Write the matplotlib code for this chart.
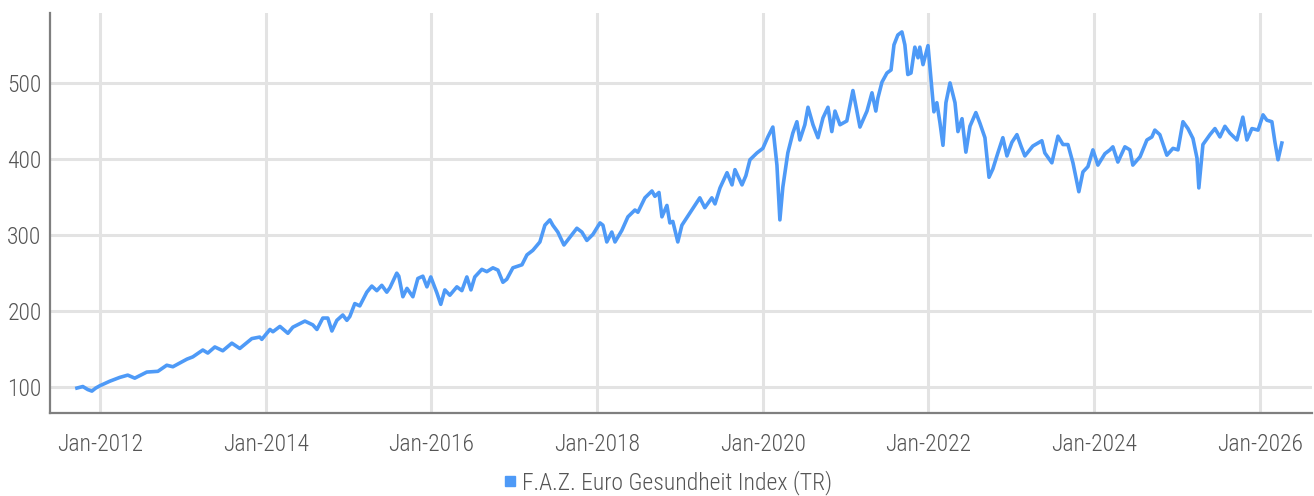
import matplotlib
matplotlib.use("Agg")
import matplotlib.pyplot as plt
import numpy as np
import pandas as pd
from matplotlib.lines import Line2D

plt.rcParams['font.family'] = ['Roboto Condensed', 'Liberation Sans Narrow', 'Roboto', 'DejaVu Sans']
plt.rcParams['font.weight'] = 'light'

series_name = "F.A.Z. Euro Gesundheit Index (TR)"

dates = [
    "2011-09-22", "2011-10-18", "2011-11-09", "2011-11-27", "2011-12-14",
    "2012-01-01", "2012-02-14", "2012-03-29", "2012-05-03", "2012-06-03",
    "2012-07-26", "2012-09-13", "2012-10-22", "2012-11-18", "2013-01-19",
    "2013-02-14", "2013-03-30", "2013-04-21", "2013-05-22", "2013-06-26",
    "2013-08-05", "2013-09-09", "2013-11-01", "2013-12-06", "2013-12-15",
    "2014-01-20", "2014-02-02", "2014-03-05", "2014-04-09", "2014-05-01",
    "2014-06-23", "2014-07-28", "2014-08-15", "2014-09-10", "2014-10-02",
    "2014-10-20", "2014-11-11", "2014-12-07", "2014-12-25", "2015-01-07",
    "2015-01-29", "2015-02-20", "2015-03-23", "2015-04-14", "2015-05-06",
    "2015-05-28", "2015-06-19", "2015-07-03", "2015-08-02", "2015-08-11",
    "2015-08-29", "2015-09-16", "2015-10-12", "2015-11-03", "2015-11-25",
    "2015-12-13", "2015-12-30", "2016-01-26", "2016-02-12", "2016-03-01",
    "2016-03-23", "2016-04-23", "2016-05-15", "2016-06-06", "2016-06-24",
    "2016-07-11", "2016-08-11", "2016-09-02", "2016-09-29", "2016-10-21",
    "2016-11-12", "2016-11-29", "2016-12-26", "2017-02-04", "2017-02-26",
    "2017-03-24", "2017-04-24", "2017-05-16", "2017-06-07", "2017-06-20",
    "2017-07-12", "2017-08-08", "2017-09-03", "2017-10-04", "2017-10-26",
    "2017-11-17", "2017-12-14", "2018-01-14", "2018-01-27", "2018-02-13",
    "2018-03-07", "2018-03-21", "2018-04-20", "2018-05-17", "2018-06-17",
    "2018-06-30", "2018-07-31", "2018-08-31", "2018-09-13", "2018-10-01",
    "2018-10-14", "2018-11-05", "2018-11-18", "2018-12-01", "2018-12-23",
    "2019-01-10", "2019-02-14", "2019-03-30", "2019-04-21", "2019-05-22",
    "2019-06-05", "2019-06-27", "2019-07-28", "2019-08-19", "2019-09-01",
    "2019-10-02", "2019-10-19", "2019-11-06", "2019-12-07", "2020-01-02",
    "2020-01-24", "2020-02-15", "2020-03-04", "2020-03-17", "2020-03-30",
    "2020-04-21", "2020-05-13", "2020-05-31", "2020-06-13", "2020-07-05",
    "2020-07-19", "2020-08-10", "2020-09-01", "2020-09-23", "2020-10-15",
    "2020-11-01", "2020-11-15", "2020-12-07", "2021-01-06", "2021-02-02",
    "2021-03-05", "2021-04-05", "2021-04-27", "2021-05-14", "2021-05-23",
    "2021-06-10", "2021-07-02", "2021-07-20", "2021-08-02", "2021-08-19",
    "2021-09-06", "2021-09-19", "2021-10-02", "2021-10-16", "2021-11-02",
    "2021-11-16", "2021-11-24", "2021-12-08", "2021-12-30", "2022-01-16",
    "2022-01-25", "2022-02-07", "2022-02-21", "2022-03-06", "2022-03-19",
    "2022-04-06", "2022-04-28", "2022-05-11", "2022-05-29", "2022-06-15",
    "2022-07-03", "2022-07-29", "2022-08-16", "2022-09-07", "2022-09-25",
    "2022-10-12", "2022-11-03", "2022-11-25", "2022-12-13", "2023-01-04",
    "2023-01-26", "2023-02-13", "2023-03-02", "2023-04-06", "2023-05-16",
    "2023-05-29", "2023-06-29", "2023-07-26", "2023-08-17", "2023-09-08",
    "2023-09-30", "2023-10-26", "2023-11-13", "2023-12-05", "2023-12-27",
    "2024-01-18", "2024-02-18", "2024-03-11", "2024-03-24", "2024-04-15",
    "2024-05-16", "2024-06-07", "2024-06-20", "2024-07-22", "2024-08-21",
    "2024-09-12", "2024-09-25", "2024-10-17", "2024-11-17", "2024-12-14",
    "2025-01-05", "2025-01-27", "2025-02-18", "2025-03-12", "2025-03-30",
    "2025-04-07", "2025-04-25", "2025-05-26", "2025-06-17", "2025-07-09",
    "2025-07-31", "2025-08-22", "2025-09-22", "2025-10-18", "2025-11-05",
    "2025-11-27", "2025-12-24", "2026-01-15", "2026-02-01", "2026-02-23",
    "2026-03-08", "2026-03-22", "2026-04-08",
]

values = [
    99, 101, 97, 95, 99,
    102, 108, 113, 116, 112,
    120, 121, 129, 127, 137,
    140, 149, 145, 153, 148,
    158, 151, 164, 166, 163,
    176, 173, 180, 171, 179,
    187, 182, 176, 191, 191,
    174, 188, 195, 188, 193,
    210, 207, 225, 233, 227,
    234, 225, 231, 250, 246,
    219, 230, 219, 243, 246,
    232, 245, 224, 209, 228,
    221, 232, 227, 245, 228,
    245, 255, 252, 257, 254,
    238, 242, 257, 261, 274,
    280, 291, 313, 320, 313,
    304, 287, 297, 309, 304,
    293, 301, 316, 313, 291,
    304, 291, 306, 324, 333,
    330, 349, 358, 351, 356,
    324, 339, 316, 318, 291,
    313, 329, 349, 336, 349,
    341, 362, 382, 366, 386,
    366, 378, 399, 408, 414,
    429, 442, 392, 320, 363,
    408, 434, 449, 425, 445,
    468, 445, 428, 454, 468,
    436, 463, 445, 450, 490,
    442, 463, 487, 463, 480,
    501, 513, 517, 550, 563,
    567, 550, 511, 513, 547,
    533, 547, 524, 549, 493,
    462, 474, 447, 418, 474,
    500, 474, 436, 453, 409,
    443, 461, 447, 428, 376,
    387, 408, 428, 404, 422,
    432, 417, 404, 417, 424,
    408, 395, 430, 419, 419,
    395, 357, 383, 390, 412,
    392, 407, 412, 416, 396,
    416, 412, 392, 403, 425,
    429, 438, 432, 405, 414,
    412, 449, 440, 427, 401,
    362, 419, 432, 440, 429,
    443, 434, 425, 455, 425,
    440, 438, 458, 451, 449,
    423, 399, 421,
]

y_ticks = [100, 200, 300, 400, 500]
x_tick_years = [2012, 2014, 2016, 2018, 2020, 2022, 2024, 2026]

line_color = "#4e9af7"
grid_color = "#e3e3e3"
spine_color = "#7f7f7f"
text_color = "#555555"

x = pd.to_datetime(dates)
y = np.array(values, dtype=float)

fig = plt.figure(figsize=(13.14, 4.96), dpi=100)
ax = fig.add_axes([0.038, 0.167, 0.9605, 0.807])

ax.plot(x, y, color=line_color, linewidth=2.6, solid_joinstyle="round", zorder=3)

ax.set_ylim(66, 592)
ax.set_xlim(pd.Timestamp("2011-05-26"), pd.Timestamp("2026-08-19"))
ax.set_yticks(y_ticks)
xt = [pd.Timestamp(f"{yr}-01-01") for yr in x_tick_years]
ax.set_xticks(xt)
ax.set_xticklabels([f"Jan-{yr}" for yr in x_tick_years])

ax.grid(True, color=grid_color, linewidth=2.2, zorder=0)
ax.set_axisbelow(True)

for s in ["top", "right"]:
    ax.spines[s].set_visible(False)
for s in ["left", "bottom"]:
    ax.spines[s].set_color(spine_color)
    ax.spines[s].set_linewidth(1.6)

fs = 17
ax.tick_params(axis="both", length=0, labelsize=fs, labelcolor=text_color)
ax.tick_params(axis="y", pad=6)
ax.tick_params(axis="x", pad=14)
for lab in ax.get_xticklabels() + ax.get_yticklabels():
    lab.set_fontstretch("condensed")

handle = Line2D([], [], marker="s", linestyle="none", markersize=7.5,
                markerfacecolor=line_color, markeredgecolor=line_color)
fig.legend([handle], [series_name], loc="center", bbox_to_anchor=(0.507, 0.028),
           frameon=False, fontsize=fs, labelcolor=text_color,
           handletextpad=0.1, handlelength=0.8, borderpad=0)

fig.savefig("out.png", dpi=100)
